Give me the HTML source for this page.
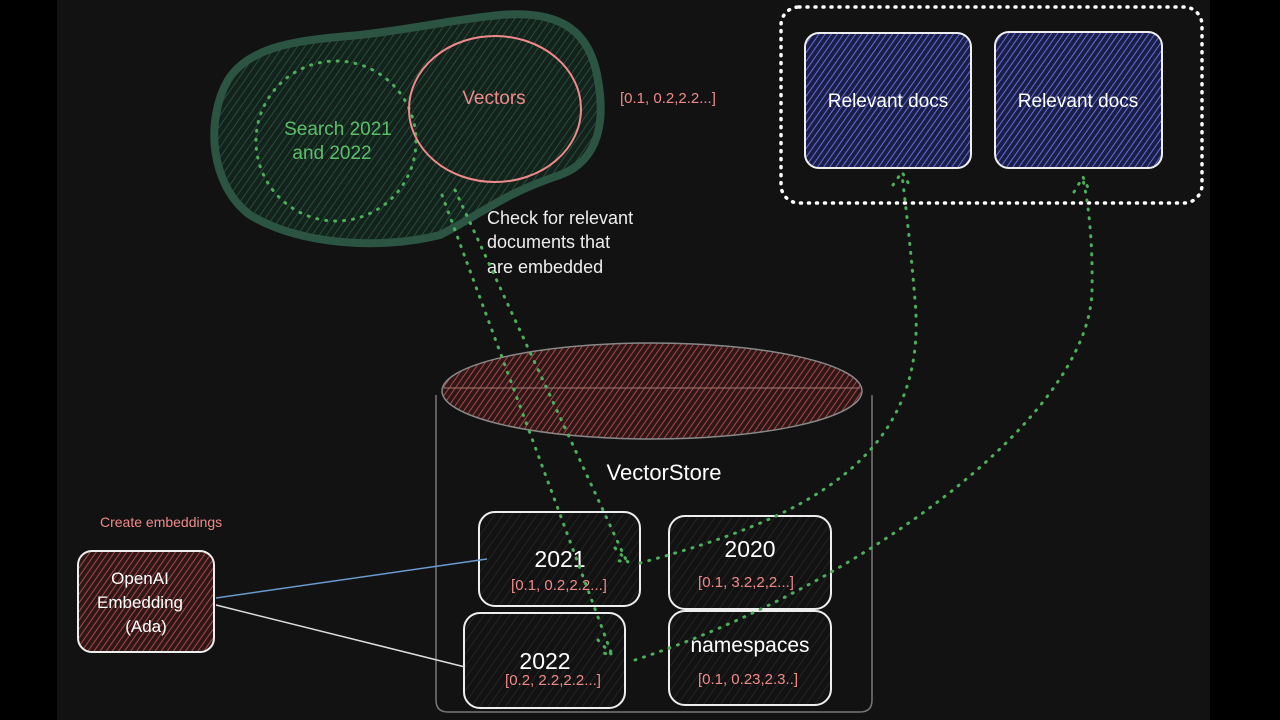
<!DOCTYPE html>
<html><head><meta charset="utf-8"><style>
html,body{margin:0;padding:0;background:#000;}
svg{display:block}
text{font-family:"Liberation Sans",sans-serif;}
</style></head><body>
<svg width="1280" height="720" viewBox="0 0 1280 720" xmlns="http://www.w3.org/2000/svg">
<defs>
<pattern id="hg" width="6" height="6" patternUnits="userSpaceOnUse" patternTransform="rotate(35)"><rect width="6" height="6" fill="#14221c"/><line x1="0" y1="0" x2="0" y2="6" stroke="#2c5a48" stroke-width="1.5"/></pattern>
<pattern id="hb" width="5" height="5" patternUnits="userSpaceOnUse" patternTransform="rotate(35)"><rect width="5" height="5" fill="#1a1e48"/><line x1="0" y1="0" x2="0" y2="5" stroke="#6470d0" stroke-width="2"/></pattern>
<pattern id="hr" width="5" height="5" patternUnits="userSpaceOnUse" patternTransform="rotate(35)"><rect width="5" height="5" fill="#301616"/><line x1="0" y1="0" x2="0" y2="5" stroke="#a04c4c" stroke-width="2"/></pattern>
<pattern id="hk" width="7" height="7" patternUnits="userSpaceOnUse" patternTransform="rotate(35)"><rect width="7" height="7" fill="#121212"/><line x1="0" y1="0" x2="0" y2="7" stroke="#2e2e2e" stroke-width="1.2"/></pattern>
</defs>
<rect x="57" y="0" width="1153" height="720" fill="#121212"/>

<!-- green blob -->
<path d="M228,80 C250,45 300,40 360,35 C420,28 450,20 500,15 C560,10 590,30 598,80 C605,120 600,160 560,175 C500,195 480,215 440,235 C380,250 300,245 250,215 C210,185 205,120 228,80 Z" fill="url(#hg)" stroke="#2b5443" stroke-width="8" stroke-linejoin="round"/>
<circle cx="336" cy="141" r="80" fill="none" stroke="#4caf5a" stroke-width="3" stroke-dasharray="1 8" stroke-linecap="round"/>
<ellipse cx="495" cy="109" rx="86" ry="73" fill="none" stroke="#f08a8a" stroke-width="2"/>
<text x="494" y="104" fill="#f08a8a" font-size="19" text-anchor="middle">Vectors</text>
<text x="338" y="135" fill="#5cbf6a" font-size="19" text-anchor="middle">Search 2021</text>
<text x="332" y="159" fill="#5cbf6a" font-size="19" text-anchor="middle">and 2022</text>
<text x="620" y="103" fill="#f08a8a" font-size="15">[0.1, 0.2,2.2...]</text>
<text fill="#eeeeee" font-size="18"><tspan x="487" y="224">Check for relevant</tspan><tspan x="487" y="248">documents that</tspan><tspan x="487" y="273">are embedded</tspan></text>

<!-- top right group -->
<rect x="781" y="7" width="421" height="196" rx="18" fill="none" stroke="#fff" stroke-width="3.5" stroke-dasharray="1 7" stroke-linecap="round"/>
<rect x="805" y="33" width="166" height="135" rx="14" fill="url(#hb)" stroke="#eee" stroke-width="2"/>
<rect x="995" y="32" width="167" height="136" rx="14" fill="url(#hb)" stroke="#eee" stroke-width="2"/>
<text x="888" y="107" fill="#fff" font-size="19" text-anchor="middle">Relevant docs</text>
<text x="1078" y="107" fill="#fff" font-size="19" text-anchor="middle">Relevant docs</text>

<!-- cylinder -->
<path d="M436,395 L436,700 Q436,712 448,712 L860,712 Q872,712 872,700 L872,395" fill="none" stroke="#777" stroke-width="1.5"/>
<ellipse cx="652" cy="391" rx="210" ry="48" fill="url(#hr)" stroke="#888" stroke-width="1.5"/>
<line x1="444" y1="388" x2="860" y2="388" stroke="#a77" stroke-width="1"/>
<text x="664" y="480" fill="#fff" font-size="22" text-anchor="middle">VectorStore</text>

<rect x="479" y="512" width="161" height="94" rx="16" fill="url(#hk)" stroke="#eee" stroke-width="2"/>
<rect x="669" y="516" width="162" height="93" rx="16" fill="url(#hk)" stroke="#eee" stroke-width="2"/>
<rect x="464" y="613" width="161" height="95" rx="16" fill="url(#hk)" stroke="#eee" stroke-width="2"/>
<rect x="669" y="611" width="162" height="94" rx="16" fill="url(#hk)" stroke="#eee" stroke-width="2"/>
<text x="560" y="567" fill="#fff" font-size="23" text-anchor="middle">2021</text>
<text x="559" y="590" fill="#f08a8a" font-size="15" text-anchor="middle">[0.1, 0.2,2.2...]</text>
<text x="750" y="557" fill="#fff" font-size="23" text-anchor="middle">2020</text>
<text x="746" y="587" fill="#f08a8a" font-size="15" text-anchor="middle">[0.1, 3.2,2,2...]</text>
<text x="545" y="669" fill="#fff" font-size="23" text-anchor="middle">2022</text>
<text x="553" y="685" fill="#f08a8a" font-size="15" text-anchor="middle">[0.2, 2.2,2.2...]</text>
<text x="750" y="652" fill="#fff" font-size="21" text-anchor="middle">namespaces</text>
<text x="748" y="684" fill="#f08a8a" font-size="15" text-anchor="middle">[0.1, 0.23,2.3..]</text>

<!-- OpenAI -->
<text x="100" y="527" fill="#f08a8a" font-size="14">Create embeddings</text>
<rect x="78" y="551" width="136" height="101" rx="14" fill="url(#hr)" stroke="#eee" stroke-width="2"/>
<text fill="#fff" font-size="17" text-anchor="middle"><tspan x="140" y="584">OpenAI</tspan><tspan x="140" y="608">Embedding</tspan><tspan x="146" y="632">(Ada)</tspan></text>
<line x1="216" y1="598" x2="487" y2="559" stroke="#6a9ad0" stroke-width="1.5"/>
<line x1="216" y1="605" x2="465" y2="667" stroke="#ddd" stroke-width="1.5"/>

<!-- green dotted connectors -->
<g fill="none" stroke="#4caf5a" stroke-width="3" stroke-dasharray="1 8" stroke-linecap="round">
<path d="M455,190 L627,562"/>
<path d="M442,195 L612,655"/>
<path d="M615,548 L628,562 L612,560"/>
<path d="M598,640 L612,655 L598,652"/>
<path d="M640,563 C800,520 930,460 915,300 C910,240 905,200 902,175"/>
<path d="M893,185 L902,172 L910,186"/>
<path d="M635,660 C850,590 1090,420 1092,290 C1093,240 1088,200 1083,180"/>
<path d="M1074,192 L1083,177 L1090,192"/>
</g>
</svg>
</body></html>
